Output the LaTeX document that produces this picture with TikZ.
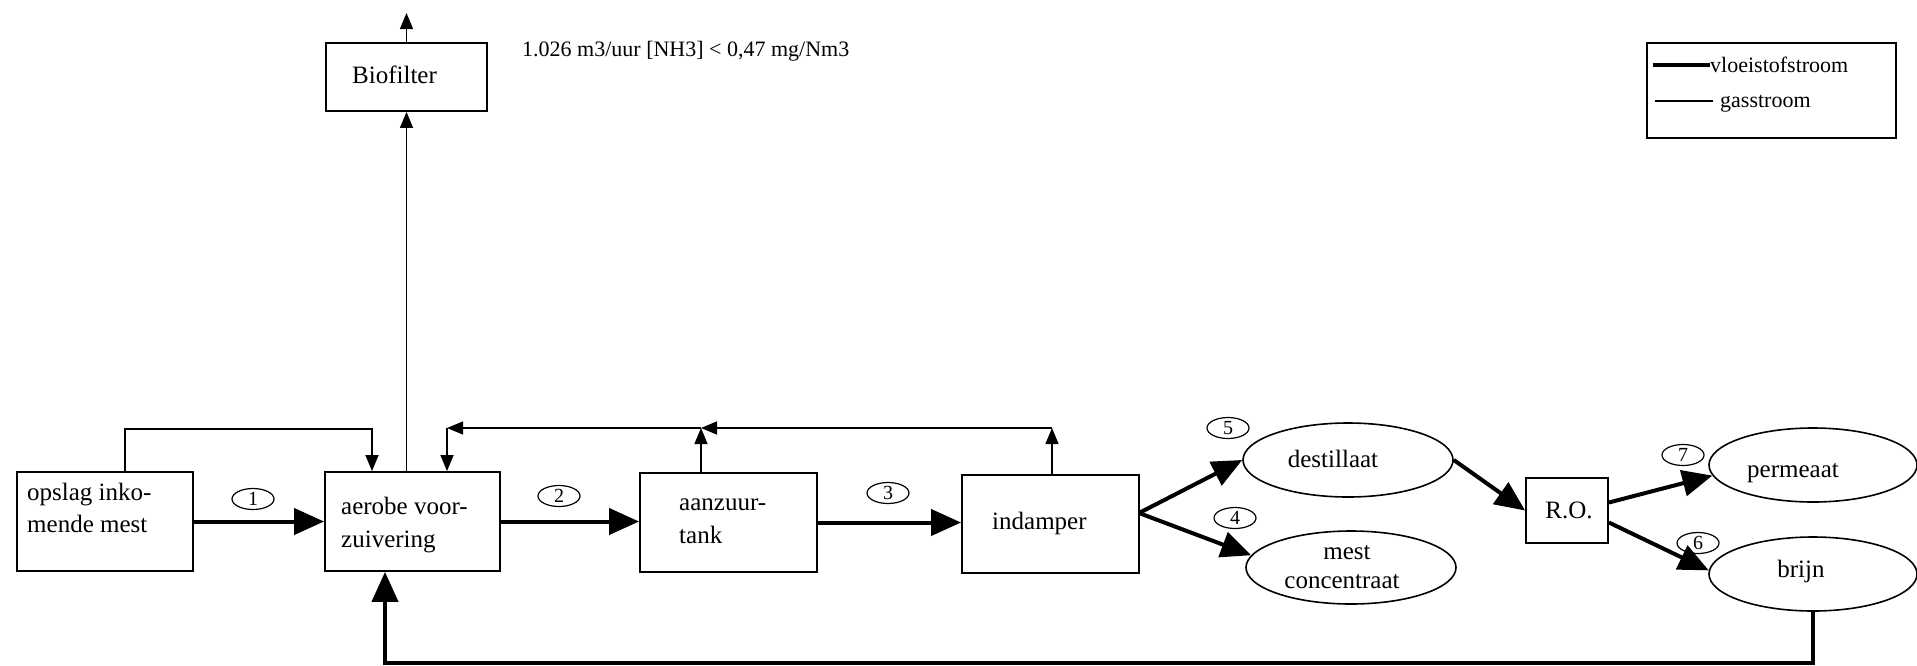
\documentclass[tikz,border=0pt]{standalone}
\usepackage{fontspec}
\setmainfont{Liberation Serif}
\usetikzlibrary{arrows.meta,shapes.geometric}
\begin{document}
\begin{tikzpicture}[x=1pt,y=-1pt,
  box/.style={draw, line width=1.8pt, inner sep=0pt},
  ell/.style={draw, ellipse, line width=1.6pt, inner sep=0pt},
  txt/.style={inner sep=0pt, font=\fontsize{25}{31}\selectfont},
  small/.style={inner sep=0pt, font=\fontsize{22}{26}\selectfont},
  num/.style={draw, ellipse, line width=1.2pt, minimum width=42pt, minimum height=21pt, inner sep=0pt, font=\fontsize{20}{20}\selectfont},
  flow/.style={line width=4pt, -{Triangle[length=30pt,width=26pt]}},
  gas/.style={line width=1.3pt, -{Triangle[length=16pt,width=13pt]}},
]
\useasboundingbox (0,0) rectangle (1917,665);

% boxes
\node[box, minimum width=176pt, minimum height=99pt] (opslag) at (105,521.5) {};
\node[box, minimum width=175pt, minimum height=99pt] (aerobe) at (412.5,521.5) {};
\node[box, minimum width=177pt, minimum height=99pt] (aanzuur) at (728.5,522.5) {};
\node[box, minimum width=177pt, minimum height=98pt] (indamper) at (1050.5,524) {};
\node[box, minimum width=161pt, minimum height=68pt] (biofilter) at (406.5,77) {};
\node[box, minimum width=82pt, minimum height=65pt] (ro) at (1567,510.5) {};
\node[ell, minimum width=210pt, minimum height=74pt] (destillaat) at (1348,460) {};
\node[ell, minimum width=210pt, minimum height=73pt] (mest) at (1351,567.5) {};
\node[ell, minimum width=208pt, minimum height=74pt] (permeaat) at (1813,465) {};
\node[ell, minimum width=208pt, minimum height=74pt] (brijn) at (1813,574) {};
\node[box, minimum width=249pt, minimum height=95pt] (legend) at (1771.5,90.5) {};

% texts
\node[txt, anchor=base west] (opslagA) at (27,500) {opslag inko-};
\node[txt, anchor=base west] (opslagB) at (27,532) {mende mest};
\node[txt, anchor=base west] (aerobeA) at (341,514) {aerobe voor-};
\node[txt, anchor=base west] (aerobeB) at (341,547) {zuivering};
\node[txt, anchor=base west] (aanzuurA) at (679,510) {aanzuur-};
\node[txt, anchor=base west] (aanzuurB) at (679,543) {tank};
\node[txt, anchor=base west] (indamperT) at (992,529) {indamper};
\node[txt, anchor=base] (biofilterT) at (394.5,83) {Biofilter};
\node[txt, anchor=base] (destillaatT) at (1333,467) {destillaat};
\node[txt, anchor=base] (mestA) at (1347,559) {mest};
\node[txt, anchor=base] (mestB) at (1342,588) {concentraat};
\node[txt, anchor=base] (permeaatT) at (1793,477) {permeaat};
\node[txt, anchor=base] (brijnT) at (1801,577) {brijn};
\node[txt, anchor=base] (roT) at (1569,518) {R.O.};
\node[small, anchor=base west] (header) at (522,56) {1.026 m3/uur [NH3] < 0,47 mg/Nm3};

% numbers
\node[num] (n1) at (253,499) {1};
\node[num] (n2) at (559,496) {2};
\node[num] (n3) at (888,493) {3};
\node[num] (n5) at (1228,428) {5};
\node[num] (n4) at (1235,518) {4};
\node[num] (n7) at (1683,455) {7};
\node[num] (n6) at (1698,543) {6};

% legend
\coordinate (lt1) at (1653,65);
\coordinate (lt2) at (1710,65);
\draw[line width=4pt] (lt1) -- (lt2);
\node[small, anchor=base west] (legA) at (1710,72) {vloeistofstroom};
\coordinate (lg1) at (1655,101);
\coordinate (lg2) at (1713,101);
\draw[line width=1.3pt] (lg1) -- (lg2);
\node[small, anchor=base west] (legB) at (1720,107) {gasstroom};

% liquid flows
\draw[flow] (opslag.east) -- (aerobe.west);
\draw[flow] (aerobe.east) -- (aerobe.east -| aanzuur.west);
\draw[flow] (aanzuur.east) -- (aanzuur.east -| indamper.west);
\coordinate (split) at (1139,513);
\draw[flow] (split) -- (destillaat.west);
\draw[flow] (split) -- (mest.173);
\draw[flow] (destillaat.east) -- (ro.west);
\draw[flow] ([yshift=8pt]ro.east) -- (permeaat.186);
\draw[flow] ([yshift=-12pt]ro.east) -- (brijn.178);
\coordinate (ret) at (385,663);
\draw[flow] (brijn.south) |- (ret) -- (ret |- aerobe.south);

% gas flows
\coordinate (gO1) at (125,429);
\coordinate (gO2) at (372,429);
\draw[gas] (gO1 |- opslag.north) -- (gO1) -- (gO2) -- (gO2 |- aerobe.north);
\draw[gas] (aerobe.north -| biofilter.south) -- (biofilter.south);
\coordinate (out) at (406.5,13);
\draw[gas] (biofilter.north) -- (out);
\coordinate (gI) at (1052,428);
\coordinate (gA) at (701,428);
\coordinate (gE) at (447,428);
\draw[gas] (gI |- indamper.north) -- (gI);
\draw[gas] (gI) -- (gA);
\draw[gas] (gA |- aanzuur.north) -- (gA);
\draw[gas] (gA) -- (gE);
\draw[gas] (gE) -- (gE |- aerobe.north);
\end{tikzpicture}
\end{document}
